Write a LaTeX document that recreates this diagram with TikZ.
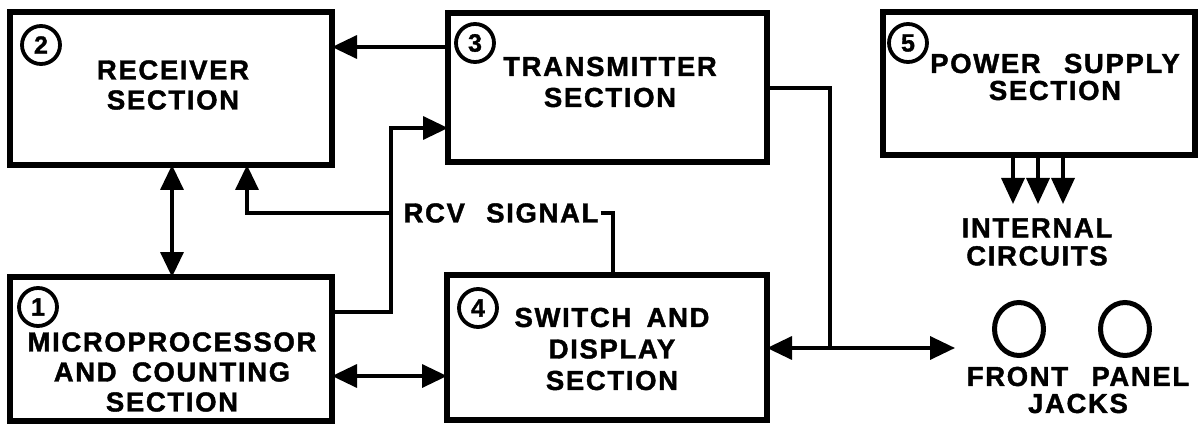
\documentclass[tikz,border=0pt]{standalone}
\usepackage{fontspec}
\setmainfont{Liberation Sans}
\newfontfamily\lblfont{Liberation Sans}[LetterSpace=6, BoldFeatures={FakeBold=1.4}]
\newfontfamily\numfont{Liberation Sans}[BoldFeatures={FakeBold=1.4}]
\usetikzlibrary{arrows.meta,shapes.geometric}
\begin{document}
\begin{tikzpicture}[x=1pt,y=-1pt,
  box/.style={draw, line width=5.5pt, rectangle, inner sep=0pt, outer sep=0pt},
  lbl/.style={font=\lblfont\bfseries\fontsize{27.5}{31}\selectfont, align=center, inner sep=0pt},
  num/.style={draw, circle, line width=3.8pt, minimum size=38pt, inner sep=0pt, font=\numfont\bfseries\fontsize{25}{25}\selectfont},
  conn/.style={line width=3.5pt},
  arr/.style={conn, -{Triangle[length=25pt,width=23pt]}},
  darr/.style={conn, {Triangle[length=25pt,width=23pt]}-{Triangle[length=25pt,width=23pt]}},
  parr/.style={conn, -{Triangle[length=26pt,width=23pt]}},
  jack/.style={draw, ellipse, line width=5pt, minimum width=49pt, minimum height=53pt, inner sep=0pt}
]
\useasboundingbox[fill=white] (0,0) rectangle (1200,425);

% boxes
\node[box, minimum width=322pt, minimum height=153pt] (b2) at (171,88.5) {};
\node[box, minimum width=319pt, minimum height=149pt] (b3) at (607.5,87.5) {};
\node[box, minimum width=312pt, minimum height=143pt] (b5) at (1039,83.5) {};
\node[box, minimum width=322pt, minimum height=144pt] (b1) at (171,349) {};
\node[box, minimum width=320pt, minimum height=145pt] (b4) at (607,347.5) {};

% circled numbers
\node[num] (n2) at (41,45) {2};
\node[num] (n3) at (475,43) {3};
\node[num] (n5) at (908,43) {5};
\node[num] (n1) at (38,307) {1};
\node[num] (n4) at (478,308) {4};

% box texts
\node[lbl, font=\lblfont\bfseries\fontsize{27.5}{30}\selectfont] (t2) at (173,85) {RECEIVER\\SECTION};
\node[lbl] (t3) at (610,82) {TRANSMITTER\\SECTION};
\node[lbl, font=\lblfont\bfseries\fontsize{27.5}{30}\selectfont] (t1) at (172,372) {MICROPROCESSOR\\AND\hspace{6pt} COUNTING\\SECTION};
\node[lbl, font=\lblfont\bfseries\fontsize{27.5}{31.5}\selectfont] (t4) at (612,349) {SWITCH\hspace{6pt} AND\\DISPLAY\\SECTION};
\node[lbl, font=\lblfont\bfseries\fontsize{27.5}{27}\selectfont] (t5) at (1055,77) {POWER\hspace{14pt} SUPPLY\\SECTION};
\node[lbl, font=\lblfont\bfseries\fontsize{27.5}{28}\selectfont] (tic) at (1037,242) {INTERNAL\\CIRCUITS};
\node[lbl, font=\lblfont\bfseries\fontsize{27.5}{27}\selectfont] (tfp) at (1078,390) {FRONT\hspace{14pt} PANEL\\JACKS};
\node[lbl] (rcv) at (501,213) {RCV\hspace{12pt} SIGNAL};

% jacks
\node[jack] (j1) at (1019,329) {};
\node[jack] (j2) at (1125,329) {};

% helper coordinates
\coordinate (k1) at (391,312);
\coordinate (k2) at (391,128);
\coordinate (k3) at (247,213);
\coordinate (k4) at (613,213);
\coordinate (k5) at (830,88);
\coordinate (k6) at (830,348);
\coordinate (k7) at (955,348);
\coordinate (k8) at (0,376);
\coordinate (k9) at (172,0);
\coordinate (k10) at (0,47);

% connectors
\draw[arr] (b3.west |- k10) -- (b2.east |- k10);
\draw[arr] (b1.east |- k1) -- (k1) -- (k2) -- (b3.west |- k2);
\draw[darr] (b2.south -| k9) -- (b1.north -| k9);
\draw[arr] ([xshift=-12pt]rcv.west) -- (k3) -- (b2.south -| k3);
\draw[conn] ([xshift=2pt]rcv.east) -- (k4) -- (b4.north -| k4);
\draw[conn] (b3.east |- k5) -- (k5) -- (k6);
\draw[darr] (b4.east |- k6) -- (k7);
\draw[darr] (b1.east |- k8) -- (b4.west |- k8);
\foreach \px in {1013,1038,1063} {
  \coordinate (pe) at (\px,204);
  \draw[parr] (b5.south -| pe) -- (pe);
}
\end{tikzpicture}
\end{document}
